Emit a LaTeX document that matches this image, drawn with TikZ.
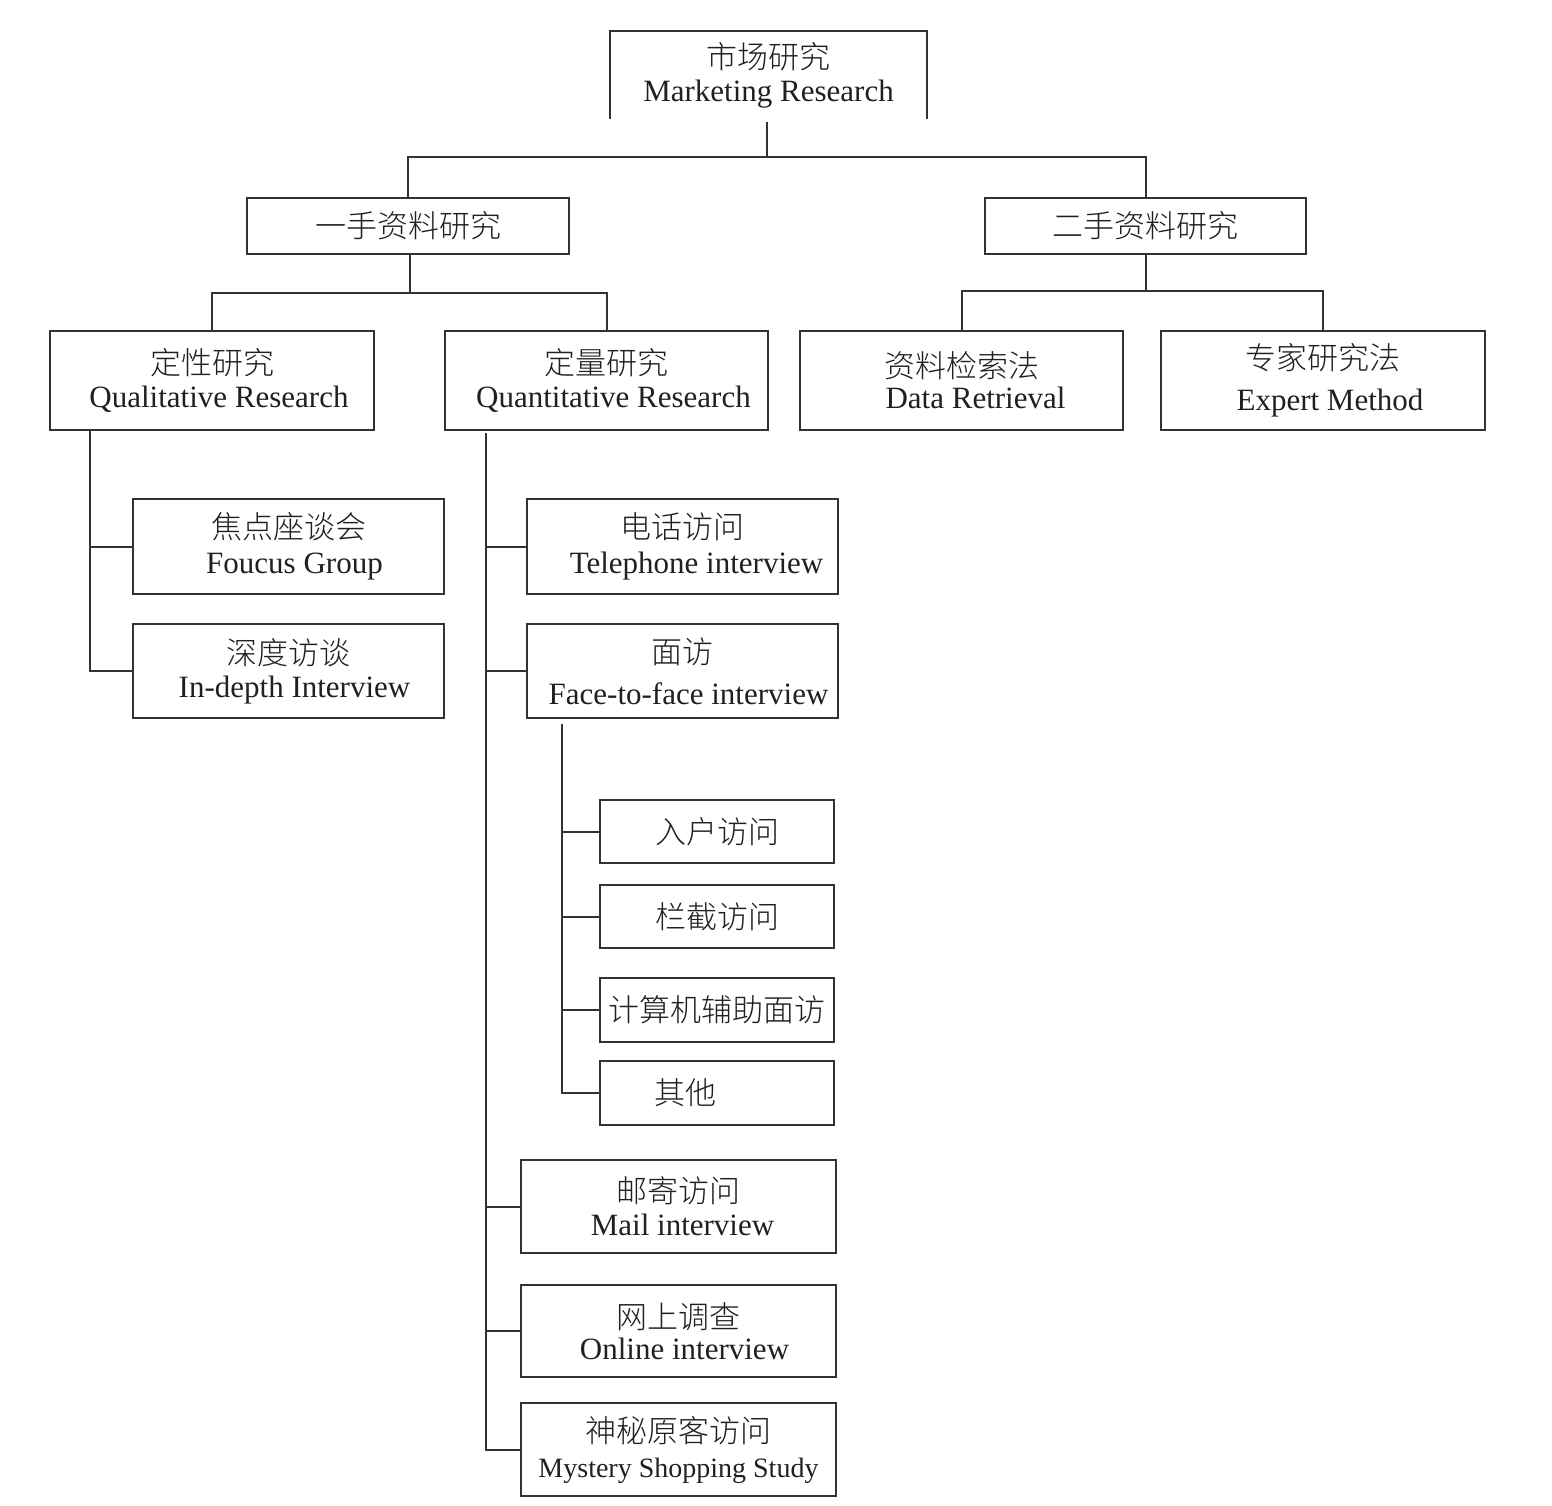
\documentclass[tikz,border=0pt]{standalone}
\usepackage{fontspec}
\setmainfont{Liberation Serif}
\newfontfamily\cjk{Noto Sans CJK SC Light}
\newcommand{\zh}[1]{{\cjk #1}}
\definecolor{ink}{HTML}{231F20}
\definecolor{wire}{HTML}{333333}
\begin{document}
\begin{tikzpicture}[x=1pt,y=-1pt,
  box/.style={draw=wire,line width=2pt,inner sep=0pt,align=center,text=ink,
    font=\fontsize{31}{37}\selectfont},
  wire/.style={draw=wire,line width=2pt}]
\useasboundingbox (0,0) rectangle (1552,1506);
% top box (open at the bottom)
\node[box,draw=none,minimum width=315pt,minimum height=86pt] (mr) at (768.5,75)
  {\zh{市场研究}\\[-4pt]Marketing Research};
\draw[wire] (mr.south west) -- (mr.north west) -- (mr.north east) -- (mr.south east);
% level 2
\node[box,minimum width=322pt,minimum height=56pt] (p1) at (408,226) {\zh{一手资料研究}};
\node[box,minimum width=321pt,minimum height=56pt] (p2) at (1145.5,226) {\zh{二手资料研究}};
% level 3
\node[box,minimum width=324pt,minimum height=99pt] (ql) at (212,380.5) {\zh{定性研究}\\[-4pt]\hspace*{14pt}Qualitative Research};
\node[box,minimum width=323pt,minimum height=99pt] (qn) at (606.5,380.5) {\zh{定量研究}\\[-4pt]\hspace*{14pt}Quantitative Research};
\node[box,minimum width=323pt,minimum height=99pt] (dr) at (961.5,380.5) {\zh{资料检索法}\\[-6pt]\hspace*{28pt}Data Retrieval};
\node[box,minimum width=324pt,minimum height=99pt] (em) at (1323,380.5) {\zh{专家研究法}\\[4pt]\hspace*{14pt}Expert Method};
% qualitative children
\node[box,minimum width=311pt,minimum height=95pt] (fg) at (288.5,546.5) {\zh{焦点座谈会}\\[-2pt]\hspace*{12pt}Foucus Group};
\node[box,minimum width=311pt,minimum height=94pt] (id) at (288.5,671) {\zh{深度访谈}\\[-4pt]\hspace*{12pt}In-depth Interview};
% quantitative children
\node[box,minimum width=311pt,minimum height=95pt] (tel) at (682.5,546.5) {\zh{电话访问}\\[-2pt]\hspace*{28pt}Telephone interview};
\node[box,minimum width=311pt,minimum height=94pt] (f2f) at (682.5,671) {\zh{面访}\\[4pt]\hspace*{12pt}Face-to-face interview};
\node[box,minimum width=234pt,minimum height=63pt] (hh) at (717,831.5) {\zh{入户访问}};
\node[box,minimum width=234pt,minimum height=63pt] (ic) at (717,916.5) {\zh{栏截访问}};
\node[box,minimum width=234pt,minimum height=64pt] (cai) at (717,1010) {\zh{计算机辅助面访}};
\node[box,minimum width=234pt,minimum height=64pt] (oth) at (717,1093) {\zh{其他}\hspace*{64pt}};
\node[box,minimum width=315pt,minimum height=93pt] (mail) at (678.5,1206.5) {\zh{邮寄访问}\\[-4pt]\hspace*{8pt}Mail interview};
\node[box,minimum width=315pt,minimum height=92pt] (onl) at (678.5,1331) {\zh{网上调查}\\[-6pt]\hspace*{12pt}Online interview};
\node[box,minimum width=315pt,minimum height=93pt] (mys) at (678.5,1449.5) {\zh{神秘原客访问}\\[-2pt]{\fontsize{28}{37}\selectfont Mystery Shopping Study}};
% connectors: top level
\coordinate (j1) at (767,157);
\draw[wire] ([yshift=-3pt]mr.south -| j1) -- (j1);
\draw[wire] (p1.north) |- (j1) -| (p2.north);
% first-hand
\coordinate (j2) at (410,293);
\draw[wire] (p1.south -| j2) -- (j2);
\draw[wire] (ql.north) |- (j2) -| (qn.north);
% second-hand
\coordinate (j3) at (1146,291);
\draw[wire] (p2.south -| j3) -- (j3);
\draw[wire] (dr.north) |- (j3) -| (em.north);
% qualitative tree
\coordinate (qlx) at ([xshift=41pt]ql.south west);
\draw[wire] (qlx) |- (id.west);
\draw[wire] (qlx |- fg.west) -- (fg.west);
% quantitative tree
\coordinate (qnx) at ([xshift=42pt,yshift=-2pt]qn.south west);
\draw[wire] (qnx) |- (mys.west);
\draw[wire] (qnx |- tel.west) -- (tel.west);
\draw[wire] (qnx |- f2f.west) -- (f2f.west);
\draw[wire] (qnx |- mail.west) -- (mail.west);
\draw[wire] (qnx |- onl.west) -- (onl.west);
% face-to-face tree
\coordinate (ffx) at ([xshift=36pt,yshift=-5pt]f2f.south west);
\draw[wire] (ffx) |- (oth.west);
\draw[wire] (ffx |- hh.west) -- (hh.west);
\draw[wire] (ffx |- ic.west) -- (ic.west);
\draw[wire] (ffx |- cai.west) -- (cai.west);
\end{tikzpicture}
\end{document}
